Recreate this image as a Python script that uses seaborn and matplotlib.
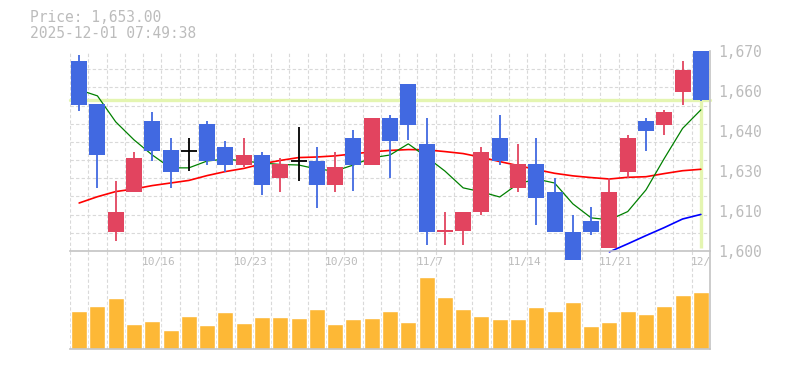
import numpy as np
import pandas as pd
import matplotlib
matplotlib.use("Agg")
import matplotlib.pyplot as plt
import matplotlib.transforms as mtransforms
import seaborn as sns

# --- DATA ---
dates = ["10/9", "10/10", "10/14", "10/15", "10/16", "10/17", "10/20", "10/21", "10/22", "10/23",
         "10/24", "10/27", "10/28", "10/29", "10/30", "10/31", "11/4", "11/5", "11/6", "11/7",
         "11/10", "11/11", "11/12", "11/13", "11/14", "11/17", "11/18", "11/19", "11/20", "11/21",
         "11/25", "11/26", "11/27", "11/28", "12/1"]
label_dates = ["10/16", "10/23", "10/30", "11/7", "11/14", "11/21", "12/1"]

open_ = [1666.5, 1651.5, 1606.5, 1620.5, 1645.5, 1635.5, 1635.0, 1644.5, 1636.5, 1630.0,
         1633.5, 1625.5, 1631.5, 1631.5, 1623.0, 1639.5, 1630.0, 1646.5, 1658.5, 1637.5,
         1606.5, 1607.0, 1613.5, 1639.5, 1622.0, 1630.5, 1620.5, 1606.5, 1610.5, 1601.0,
         1627.5, 1645.5, 1644.0, 1655.5, 1670.0]
high = [1668.5, 1651.5, 1624.5, 1634.5, 1648.5, 1639.5, 1639.5, 1645.5, 1638.5, 1639.5,
        1634.5, 1632.5, 1643.5, 1636.5, 1634.5, 1642.5, 1646.5, 1647.5, 1658.5, 1646.5,
        1613.5, 1613.5, 1636.5, 1647.5, 1637.5, 1639.5, 1625.5, 1612.5, 1615.5, 1625.5,
        1640.5, 1646.5, 1649.5, 1666.5, 1670.0]
low = [1649.0, 1622.0, 1603.5, 1620.5, 1631.5, 1622.0, 1628.0, 1630.0, 1627.5, 1629.5,
       1619.5, 1620.5, 1624.5, 1615.0, 1620.5, 1621.0, 1630.0, 1625.5, 1639.0, 1602.0,
       1602.0, 1602.0, 1612.5, 1630.0, 1620.5, 1609.0, 1606.5, 1597.0, 1605.5, 1601.0,
       1625.5, 1635.0, 1640.5, 1651.0, 1652.5]
close = [1651.0, 1633.5, 1613.5, 1632.5, 1635.0, 1627.5, 1635.0, 1631.5, 1630.0, 1633.5,
         1623.0, 1630.5, 1631.5, 1623.0, 1629.5, 1630.0, 1646.5, 1638.5, 1644.0, 1606.5,
         1607.5, 1613.5, 1634.5, 1631.5, 1630.5, 1618.5, 1606.5, 1597.0, 1606.5, 1620.5,
         1639.5, 1642.0, 1648.5, 1663.5, 1653.0]

ma_short = [1656.4, 1654.3, 1645.2, 1638.9, 1633.6, 1629.1, 1629.1, 1631.5, 1632.2, 1631.5,
            1630.8, 1630.3, 1630.1, 1628.7, 1628.0, 1630.1, 1632.6, 1633.6, 1637.5, 1632.9,
            1628.0, 1622.1, 1620.7, 1618.9, 1623.5, 1625.2, 1623.8, 1616.5, 1611.6, 1610.9,
            1613.8, 1621.4, 1632.4, 1642.9, 1649.4]
ma_mid = [1616.8, 1619.0, 1620.8, 1621.7, 1622.9, 1623.8, 1624.7, 1626.4, 1627.8, 1628.9,
          1630.5, 1631.7, 1632.7, 1632.9, 1633.3, 1634.0, 1634.7, 1635.2, 1635.5, 1635.4,
          1634.8, 1634.1, 1632.8, 1631.3, 1629.9, 1628.5, 1627.2, 1626.3, 1625.7, 1625.2,
          1625.8, 1626.0, 1627.1, 1628.1, 1628.6]
ma_long_dates = ["11/21", "11/25", "11/26", "11/27", "11/28", "12/1"]
ma_long = [1599.7, 1602.5, 1605.4, 1608.2, 1611.2, 1612.8]

volume = [38, 43, 51, 25, 28, 19, 33, 24, 37, 26, 32, 32, 31, 40, 25, 30, 31, 38, 27, 72,
          52, 40, 33, 30, 30, 42, 38, 47, 23, 27, 38, 35, 43, 54, 57]

last_price = 1653.0
price_ticks = [1600, 1614, 1628, 1642, 1656, 1670]
price_tick_labels = ["1,600", "1,610", "1,630", "1,640", "1,660", "1,670"]
title_lines = ["Price: 1,653.00", "2025-12-01 07:49:38"]

# --- STYLE ---
UP = "#E2445F"
DOWN = "#4169E1"
DOJI = "#000000"
VOL = "#FDB836"
GRID = "#d9d9d9"
AXIS = "#c4c4c4"
TEXT = "#bcbcbc"
HILITE = "#e4f5b1"

sns.set_style("white")
plt.rcParams["font.family"] = ["DejaVu Sans Mono", "DejaVu Sans"]

df = pd.DataFrame({"date": dates, "open": open_, "high": high, "low": low,
                   "close": close, "ma_short": ma_short, "ma_mid": ma_mid, "volume": volume})
df["x"] = np.arange(len(df))
df["color"] = np.where(df["close"] > df["open"], UP,
                       np.where(df["close"] < df["open"], DOWN, DOJI))
n = len(df)

fig = plt.figure(figsize=(7.85, 3.70), dpi=100)
ax_vol = fig.add_axes([70 / 785, 1 - 349 / 370, 640 / 785, 98 / 370])
ax = fig.add_axes([70 / 785, 1 - 251 / 370, 640 / 785, 200 / 370])
ax.set_facecolor("none")
ax_vol.set_facecolor("none")

xlim = (-0.5, n - 0.5)
cell_edges = np.arange(-0.5, n - 0.5, 1.0)

# --- PRICE PANEL ---
ax.set_xlim(*xlim)
ax.set_ylim(1600, 1670)
ax.set_xticks(cell_edges, minor=True)
ax.set_xticks([])
ax.set_yticks(np.linspace(1600, 1670, 12)[1:], minor=True)
ax.set_yticks(price_ticks)
ax.set_yticklabels(price_tick_labels)
ax.yaxis.tick_right()
ax.tick_params(which="both", length=0)
ax.tick_params(axis="y", pad=6, labelsize=10.5, labelcolor=TEXT)
ax.grid(False, which="major")
ax.grid(True, which="minor", color=GRID, linestyle=(0, (3, 2)), linewidth=0.8)
for side in ["top", "left"]:
    ax.spines[side].set_visible(False)
for side in ["right", "bottom"]:
    ax.spines[side].set_color(AXIS)
    ax.spines[side].set_linewidth(1.2)

# last price highlight
ax.axhline(last_price, color=HILITE, linewidth=2.4, zorder=1)
ax.vlines(df["x"].iloc[-1], 1601, last_price, color=HILITE, linewidth=2.4, zorder=1)

# moving averages
sns.lineplot(x=df["x"], y=df["ma_mid"], color="#ff0000", linewidth=1.2, ax=ax, zorder=2)
sns.lineplot(x=df["x"], y=df["ma_short"], color="#008000", linewidth=0.9, ax=ax, zorder=2)
long_x = [dates.index(d) for d in ma_long_dates]
sns.lineplot(x=long_x, y=ma_long, color="#0000ff", linewidth=1.2, ax=ax, zorder=2)
for ln in ax.lines:
    ln.set_clip_on(False)

# candles
body_w = 0.87
ax.vlines(df["x"], df["low"], df["high"], colors=df["color"], linewidth=1.3,
          zorder=3, clip_on=False)
solid = df[df["color"] != DOJI]
ax.bar(solid["x"], (solid["close"] - solid["open"]).abs(),
       bottom=solid[["open", "close"]].min(axis=1), width=body_w,
       color=solid["color"], linewidth=0, zorder=4, clip_on=False)
doji = df[df["color"] == DOJI]
ax.hlines(doji["close"], doji["x"] - body_w / 2, doji["x"] + body_w / 2,
          colors=DOJI, linewidth=1.3, zorder=4)
ax.set_xlabel("")
ax.set_ylabel("")

# --- VOLUME PANEL ---
sns.barplot(x=df["x"], y=df["volume"], color=VOL, saturation=1, width=body_w,
            ax=ax_vol, zorder=2)
ax_vol.set_xlim(*xlim)
ax_vol.set_ylim(0, 98)
ax_vol.set_xticks(cell_edges, minor=True)
ax_vol.set_xticks([])
ax_vol.set_yticks([])
ax_vol.tick_params(which="both", length=0)
ax_vol.grid(False, which="major")
ax_vol.grid(True, which="minor", axis="x", color=GRID, linestyle=(0, (3, 2)), linewidth=0.8)
ax_vol.set_xlabel("")
ax_vol.set_ylabel("")
for side in ["top", "left"]:
    ax_vol.spines[side].set_visible(False)
for side in ["right", "bottom"]:
    ax_vol.spines[side].set_color(AXIS)
    ax_vol.spines[side].set_linewidth(1.2)

trans = mtransforms.blended_transform_factory(ax_vol.transData, ax_vol.transAxes)
for d in label_dates:
    ax_vol.text(dates.index(d) - 0.56, 0.885, d, transform=trans, ha="left", va="center",
                fontsize=8, color=TEXT, clip_on=True)

# --- HEADER ---
fig.text(30 / 785, 1 - 18 / 370, title_lines[0], ha="left", va="center",
         fontsize=10.5, color=TEXT)
fig.text(30 / 785, 1 - 33 / 370, title_lines[1], ha="left", va="center",
         fontsize=10.5, color=TEXT)

fig.savefig("out.png", dpi=100, facecolor="white")
